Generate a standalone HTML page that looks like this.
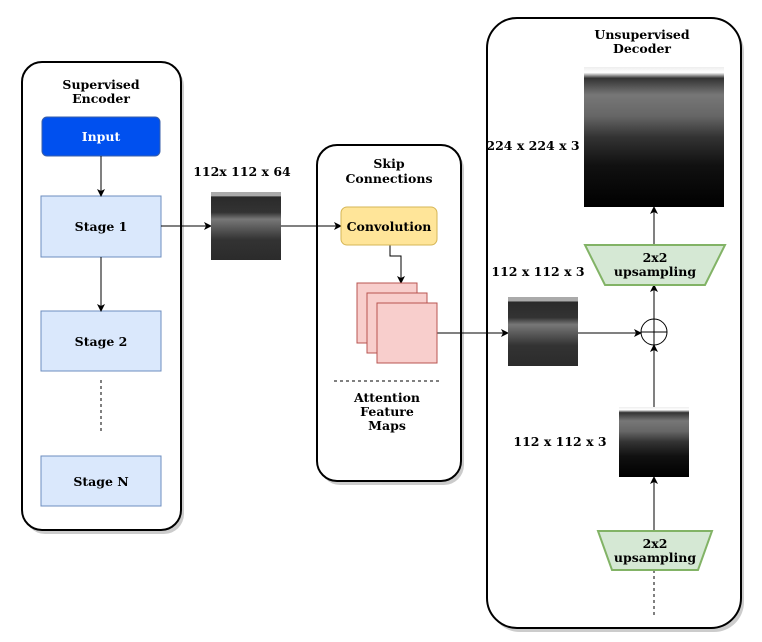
<!DOCTYPE html>
<html><head><meta charset="utf-8"><style>body{margin:0;background:#fff}svg{display:block}text{font-family:"DejaVu Serif","Liberation Serif",serif;font-weight:bold;font-size:12.5px;text-anchor:middle}</style></head><body>
<svg width="762" height="642" viewBox="0 0 762 642" xmlns="http://www.w3.org/2000/svg">
<defs>
<marker id="a" markerWidth="8" markerHeight="8" refX="7" refY="4" orient="auto" markerUnits="userSpaceOnUse"><path d="M0,0 L8,4 L0,8 L2,4 Z" fill="#000"/></marker>
<linearGradient id="oct" x1="0" y1="0" x2="0" y2="1"><stop offset="0" stop-color="#aaa"/><stop offset="0.06" stop-color="#aaa"/><stop offset="0.07" stop-color="#2a2a2a"/><stop offset="0.3" stop-color="#333"/><stop offset="0.4" stop-color="#777"/><stop offset="0.55" stop-color="#555"/><stop offset="0.7" stop-color="#333"/><stop offset="1" stop-color="#2b2b2b"/></linearGradient>
<linearGradient id="dk" x1="0" y1="0" x2="0" y2="1"><stop offset="0" stop-color="#eee"/><stop offset="0.04" stop-color="#fff"/><stop offset="0.08" stop-color="#333"/><stop offset="0.2" stop-color="#777"/><stop offset="0.35" stop-color="#666"/><stop offset="0.5" stop-color="#333"/><stop offset="0.7" stop-color="#111"/><stop offset="1" stop-color="#000"/></linearGradient>
</defs>
<g fill="#999" opacity="0.5"><rect x="25" y="66" width="159" height="468" rx="20"/><rect x="320" y="149" width="144" height="336" rx="20"/><rect x="490" y="22" width="254" height="610" rx="30"/></g>
<g fill="#fff" stroke="#000" stroke-width="2"><rect x="22" y="62" width="159" height="468" rx="20"/><rect x="317" y="145" width="144" height="336" rx="20"/><rect x="487" y="18" width="254" height="610" rx="30"/></g>
<text x="101" y="89">Supervised</text><text x="101" y="103">Encoder</text>
<rect x="42" y="117" width="118" height="39" rx="5" fill="#0050ef" stroke="#3a5fa8"/><text x="101" y="141" fill="#fff">Input</text>
<g fill="#dae8fc" stroke="#6c8ebf"><rect x="41" y="196" width="120" height="61"/><rect x="41" y="311" width="120" height="60"/><rect x="41" y="456" width="120" height="50"/></g>
<text x="101" y="231">Stage 1</text><text x="101" y="346">Stage 2</text><text x="101" y="486">Stage N</text>
<g stroke="#000" fill="none" stroke-width="1">
<line x1="101" y1="156" x2="101" y2="196" marker-end="url(#a)"/>
<line x1="101" y1="257" x2="101" y2="311" marker-end="url(#a)"/>
<line x1="101" y1="380" x2="101" y2="432" stroke-dasharray="3,3"/>
<line x1="161" y1="226" x2="211" y2="226" marker-end="url(#a)"/>
<line x1="281" y1="226" x2="341" y2="226" marker-end="url(#a)"/>
<polyline points="390,245 390,256 401,256 401,283" marker-end="url(#a)"/>
<line x1="437" y1="333" x2="508" y2="333" marker-end="url(#a)"/>
<line x1="334" y1="381" x2="439" y2="381" stroke-dasharray="3,3"/>
<line x1="654" y1="245" x2="654" y2="207" marker-end="url(#a)"/>
<line x1="654" y1="319" x2="654" y2="285" marker-end="url(#a)"/>
<line x1="578" y1="333" x2="641" y2="333" marker-end="url(#a)"/>
<line x1="654" y1="407" x2="654" y2="345" marker-end="url(#a)"/>
<line x1="654" y1="531" x2="654" y2="477" marker-end="url(#a)"/>
<line x1="654" y1="570" x2="654" y2="616" stroke-dasharray="3,3"/>
</g>
<text x="242" y="176">112x 112 x 64</text>
<rect x="211" y="192" width="70" height="68" fill="url(#oct)"/>
<text x="389" y="168">Skip</text><text x="389" y="183">Connections</text>
<rect x="341" y="207" width="96" height="38" rx="6" fill="#ffe599" stroke="#d6b656"/><text x="389" y="231">Convolution</text>
<g fill="#f8cecc" stroke="#b85450"><rect x="357" y="283" width="60" height="60"/><rect x="367" y="293" width="60" height="60"/><rect x="377" y="303" width="60" height="60"/></g>
<text x="387" y="402">Attention</text><text x="387" y="416">Feature</text><text x="387" y="430">Maps</text>
<text x="642" y="39">Unsupervised</text><text x="642" y="53">Decoder</text>
<rect x="584" y="67" width="140" height="140" fill="url(#dk)"/>
<text x="533" y="150">224 x 224 x 3</text>
<polygon points="585,245 725,245 705,285 605,285" fill="#d5e8d4" stroke="#82b366" stroke-width="2"/>
<text x="655" y="262">2x2</text><text x="655" y="276">upsampling</text>
<text x="538" y="276">112 x 112 x 3</text>
<rect x="508" y="297" width="70" height="69" fill="url(#oct)"/>
<circle cx="654" cy="332" r="13" fill="#fff" stroke="#000"/><path d="M641,332 H667 M654,319 V345" stroke="#000"/>
<rect x="619" y="407" width="70" height="70" fill="url(#dk)"/>
<text x="560" y="446">112 x 112 x 3</text>
<polygon points="598,531 712,531 698,570 612,570" fill="#d5e8d4" stroke="#82b366" stroke-width="2"/>
<text x="655" y="548">2x2</text><text x="655" y="562">upsampling</text>
</svg></body></html>
